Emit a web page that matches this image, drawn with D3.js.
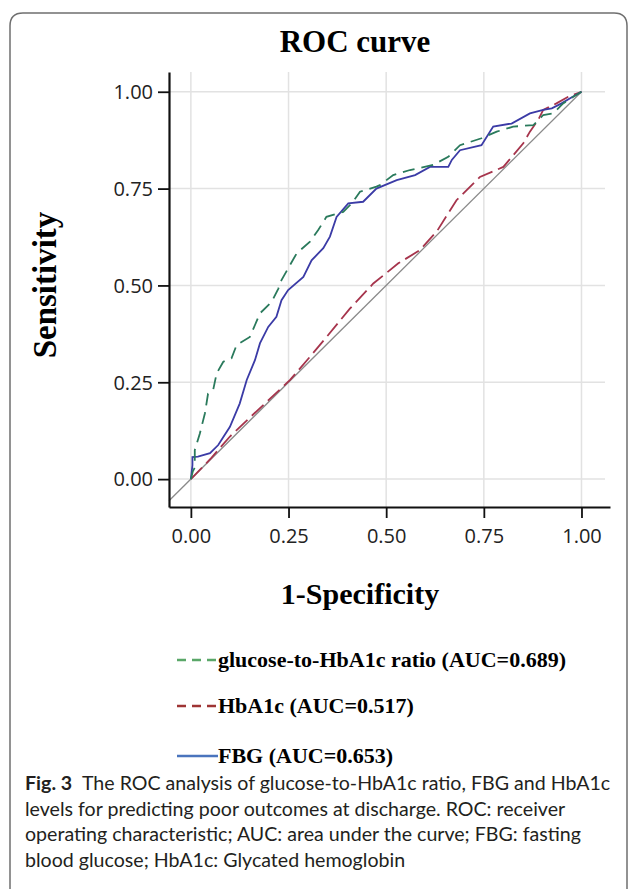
<!DOCTYPE html>
<html>
<head>
<meta charset="utf-8">
<script src="https://cdn.jsdelivr.net/npm/d3@7"></script>
<style>
  body { margin: 0; background: white; }
  svg { display: block; }
</style>
</head>
<body>
<div id="chart"></div>
<script>
var svgWidth = 630;
var svgHeight = 889;

// ROC points (1-specificity, sensitivity)
var glucoseFpr = [0, 0.005, 0.01, 0.01, 0.023, 0.036, 0.044, 0.057, 0.066, 0.083, 0.104, 0.117, 0.151, 0.177, 0.207, 0.224, 0.232, 0.271, 0.305, 0.326, 0.347, 0.39, 0.412, 0.433, 0.475, 0.484, 0.518, 0.561, 0.62, 0.659, 0.689, 0.744, 0.783, 0.825, 0.877, 0.902, 0.928, 0.953, 0.979, 1];
var glucoseTpr = [0, 0.02, 0.03, 0.075, 0.118, 0.17, 0.221, 0.23, 0.273, 0.303, 0.312, 0.346, 0.367, 0.428, 0.458, 0.492, 0.514, 0.583, 0.613, 0.643, 0.677, 0.69, 0.712, 0.742, 0.755, 0.759, 0.785, 0.798, 0.811, 0.832, 0.862, 0.88, 0.897, 0.91, 0.914, 0.94, 0.944, 0.97, 0.987, 1];

var hba1cFpr = [0, 0.05, 0.1, 0.15, 0.2, 0.254, 0.3, 0.35, 0.407, 0.467, 0.531, 0.586, 0.63, 0.68, 0.74, 0.8, 0.851, 0.868, 0.889, 0.902, 0.936, 0.966, 1];
var hba1cTpr = [0, 0.052, 0.11, 0.158, 0.205, 0.256, 0.31, 0.37, 0.44, 0.505, 0.557, 0.591, 0.64, 0.72, 0.78, 0.806, 0.867, 0.897, 0.927, 0.953, 0.97, 0.987, 1];

var fbgFpr = [0, 0.004, 0.004, 0.018, 0.049, 0.07, 0.1, 0.125, 0.143, 0.164, 0.177, 0.198, 0.219, 0.232, 0.249, 0.288, 0.309, 0.339, 0.356, 0.373, 0.403, 0.441, 0.475, 0.527, 0.574, 0.612, 0.659, 0.668, 0.689, 0.744, 0.774, 0.821, 0.868, 0.902, 0.924, 0.949, 0.971, 1];
var fbgTpr = [0, 0.036, 0.057, 0.058, 0.067, 0.088, 0.135, 0.195, 0.256, 0.307, 0.351, 0.393, 0.419, 0.462, 0.488, 0.522, 0.565, 0.596, 0.626, 0.677, 0.712, 0.716, 0.75, 0.772, 0.785, 0.806, 0.806, 0.824, 0.849, 0.862, 0.91, 0.918, 0.944, 0.953, 0.957, 0.97, 0.983, 1];

var tickValues = [0, 0.25, 0.5, 0.75, 1];

var legendLabels = ["glucose-to-HbA1c ratio (AUC=0.689)", "HbA1c (AUC=0.517)", "FBG (AUC=0.653)"];

var captionLines = [
  "The ROC analysis of glucose-to-HbA1c ratio, FBG and HbA1c",
  "levels for predicting poor outcomes at discharge. ROC: receiver",
  "operating characteristic; AUC: area under the curve; FBG: fasting",
  "blood glucose; HbA1c: Glycated hemoglobin"
];

var svg = d3.select("#chart")
  .append("svg")
  .attr("width", svgWidth)
  .attr("height", svgHeight);

// outer frame
svg.append("path")
  .attr("d", "M10,889 L10,26 Q10,13 23,13 L614,13 Q627,13 627,26 L627,889")
  .attr("fill", "none")
  .attr("stroke", "#6f6f6f")
  .attr("stroke-width", 1.5);

var xScale = d3.scaleLinear().domain([-0.056, 1.073]).range([169, 610]);
var yScale = d3.scaleLinear().domain([-0.072, 1.051]).range([507, 72]);

// gridlines
svg.append("g").selectAll("line")
  .data(tickValues)
  .enter()
  .append("line")
  .attr("x1", 169).attr("x2", 605)
  .attr("y1", d => yScale(d)).attr("y2", d => yScale(d))
  .attr("stroke", "#e2e2e2")
  .attr("stroke-width", 1.5);

svg.append("g").selectAll("line")
  .data(tickValues)
  .enter()
  .append("line")
  .attr("x1", d => xScale(d)).attr("x2", d => xScale(d))
  .attr("y1", 72).attr("y2", 507)
  .attr("stroke", "#e2e2e2")
  .attr("stroke-width", 1.5);

// reference diagonal
svg.append("line")
  .attr("x1", xScale(-0.056)).attr("y1", yScale(-0.056))
  .attr("x2", xScale(1)).attr("y2", yScale(1))
  .attr("stroke", "#8a8a8a")
  .attr("stroke-width", 1.3);

var line = d3.line()
  .x(d => xScale(d[0]))
  .y(d => yScale(d[1]));

function toPoints(fpr, tpr) {
  return fpr.map((f, i) => [f, tpr[i]]);
}

svg.append("path")
  .datum(toPoints(hba1cFpr, hba1cTpr))
  .attr("d", line)
  .attr("fill", "none")
  .attr("stroke", "#a6344c")
  .attr("stroke-width", 1.8)
  .attr("stroke-dasharray", "16,6");

svg.append("path")
  .datum(toPoints(fbgFpr, fbgTpr))
  .attr("d", line)
  .attr("fill", "none")
  .attr("stroke", "#3b3ba6")
  .attr("stroke-width", 1.8);

svg.append("path")
  .datum(toPoints(glucoseFpr, glucoseTpr))
  .attr("d", line)
  .attr("fill", "none")
  .attr("stroke", "#2a7a5c")
  .attr("stroke-width", 1.8)
  .attr("stroke-dasharray", "12,7");

// axes
var leftAxis = d3.axisLeft(yScale)
  .tickValues(tickValues)
  .tickFormat(d3.format(".2f"))
  .tickSize(11)
  .tickSizeOuter(0);

var bottomAxis = d3.axisBottom(xScale)
  .tickValues(tickValues)
  .tickFormat(d3.format(".2f"))
  .tickSize(11)
  .tickSizeOuter(0);

var yAxis = svg.append("g")
  .attr("transform", "translate(169,0)")
  .call(leftAxis);

var xAxis = svg.append("g")
  .attr("transform", "translate(0,507)")
  .call(bottomAxis);

[xAxis, yAxis].forEach(function(ax) {
  ax.select(".domain").attr("stroke", "#111").attr("stroke-width", 2.2);
  ax.selectAll(".tick line").attr("stroke", "#111").attr("stroke-width", 1.8);
  ax.selectAll(".tick text")
    .attr("fill", "#222")
    .style("font-family", "'Open Sans', sans-serif")
    .style("font-size", "20px");
});
yAxis.selectAll(".tick text").attr("x", -16).attr("dy", "0.34em");
xAxis.selectAll(".tick text").attr("y", 22);

// titles
svg.append("text")
  .attr("x", 355)
  .attr("y", 52)
  .attr("text-anchor", "middle")
  .style("font-family", "'Liberation Serif', serif")
  .style("font-weight", "bold")
  .style("font-size", "31px")
  .text("ROC curve");

svg.append("text")
  .attr("x", 360)
  .attr("y", 604)
  .attr("text-anchor", "middle")
  .style("font-family", "'Liberation Serif', serif")
  .style("font-weight", "bold")
  .style("font-size", "30px")
  .text("1-Specificity");

svg.append("text")
  .attr("transform", "translate(56,285) rotate(-90)")
  .attr("text-anchor", "middle")
  .style("font-family", "'Liberation Serif', serif")
  .style("font-weight", "bold")
  .style("font-size", "33px")
  .text("Sensitivity");

// legend
var legendColors = ["#5aa768", "#9e3434", "#4a74bd"];
var legendDash = ["9,6", "9,6", null];
var legendY = [660, 706, 756];

var legend = svg.append("g");
legendLabels.forEach(function(label, i) {
  legend.append("line")
    .attr("x1", 177).attr("x2", 218)
    .attr("y1", legendY[i]).attr("y2", legendY[i])
    .attr("stroke", legendColors[i])
    .attr("stroke-width", 2.6)
    .attr("stroke-dasharray", legendDash[i]);
  legend.append("text")
    .attr("x", 218)
    .attr("y", legendY[i] + 7)
    .style("font-family", "'Liberation Serif', serif")
    .style("font-weight", "bold")
    .style("font-size", "22px")
    .text(label);
});

// caption
var caption = svg.append("g")
  .style("font-family", "Lato, sans-serif")
  .style("font-size", "19.6px")
  .attr("fill", "#231f20");

captionLines.forEach(function(txt, i) {
  var t = caption.append("text")
    .attr("x", 25)
    .attr("y", 790 + i * 25.5);
  if (i === 0) {
    t.append("tspan").style("font-weight", "bold").text("Fig. 3");
    t.append("tspan").text("\u2002" + txt);
  } else {
    t.text(txt);
  }
});
</script>
</body>
</html>
